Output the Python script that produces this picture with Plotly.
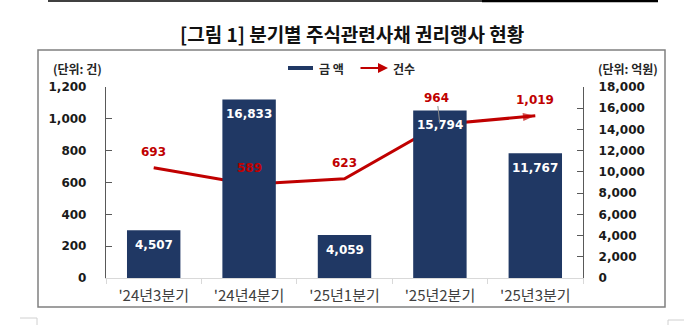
import plotly.graph_objects as go

categories = ["'24년3분기", "'24년4분기", "'25년1분기", "'25년2분기", "'25년3분기"]
amounts = [4507, 16833, 4059, 15794, 11767]      # 금액 (억원), right axis
counts = [693, 589, 623, 964, 1019]              # 건수 (건), left axis
left_ticks = [0, 200, 400, 600, 800, 1000, 1200]
right_ticks = [0, 2000, 4000, 6000, 8000, 10000, 12000, 14000, 16000, 18000]

title_text = "[그림 1] 분기별 주식관련사채 권리행사 현황"
left_unit = "(단위: 건)"
right_unit = "(단위: 억원)"
legend_bar = "금 액"
legend_line = "건수"

NAVY = "#203864"
RED = "#c00000"
FONT = "DejaVu Sans, Noto Sans CJK KR, sans-serif"
KFONT = "Noto Sans CJK KR, DejaVu Sans, sans-serif"

W, H = 700, 325
L, R, T, B = 106, 583, 87, 278  # plot area in pixels


def px(xp):
    return (xp - L) / (R - L)


def py(yp):
    return (B - yp) / (B - T)


fig = go.Figure()
fig.add_trace(go.Bar(
    x=categories, y=amounts, yaxis="y2", name=legend_bar,
    marker=dict(color=NAVY, line=dict(width=0)), showlegend=False,
))
n = len(categories)
fig.add_trace(go.Scatter(
    x=categories, y=counts, yaxis="y", name=legend_line, mode="lines+markers",
    line=dict(color=RED, width=3),
    marker=dict(symbol=["circle"] * (n - 1) + ["arrow"],
                size=[0] * (n - 1) + [13], angleref="previous", color=RED,
                line=dict(width=0)),
    showlegend=False,
))

annotations = []
for c, v in zip(categories, amounts):
    annotations.append(dict(x=c, y=v, xref="x", yref="y2", text=f"{v:,}",
                            showarrow=False, yshift=-15, yanchor="middle",
                            font=dict(family=FONT, size=12, color="white", weight="bold")))
for i, (c, v) in enumerate(zip(categories, counts)):
    if v == 964:
        annotations.append(dict(x=c, y=v, xref="x", yref="y", text=f"{v:,}",
                                showarrow=True, arrowhead=0, arrowwidth=1,
                                arrowcolor="#8c8c8c", ax=-3, ay=-27, standoff=1,
                                font=dict(family=FONT, size=12, color=RED, weight="bold")))
    else:
        annotations.append(dict(x=c, y=v, xref="x", yref="y", text=f"{v:,}",
                                showarrow=False, yshift=16, yanchor="middle",
                                font=dict(family=FONT, size=12, color=RED, weight="bold")))


def label(xp, yp, text, xanchor, size=12, color="#262626"):
    return dict(x=px(xp), y=py(yp), xref="paper", yref="paper", text=text,
                xanchor=xanchor, yanchor="middle", showarrow=False,
                font=dict(family=KFONT, size=size, color=color, weight="bold"))


annotations += [
    label(352, 33, title_text, "center", size=19, color="#111111"),
    label(51, 68, left_unit, "left"),
    label(660, 68, right_unit, "right"),
    label(317, 68, legend_bar, "left"),
    label(391, 68, legend_line, "left"),
    # legend arrow
    dict(x=px(388), y=py(68), xref="paper", yref="paper", text="", showarrow=True,
         arrowhead=2, arrowsize=1, arrowwidth=2, arrowcolor=RED, ax=-29, ay=0),
]

shapes = [
    # outer frame
    dict(type="rect", xref="paper", yref="paper", x0=px(38), x1=px(665), y0=py(307), y1=py(50),
         line=dict(color="#808080", width=1.5), layer="below"),
    # legend bar swatch
    dict(type="rect", xref="paper", yref="paper", x0=px(288), x1=px(313), y0=py(70), y1=py(66),
         line=dict(width=0), fillcolor=NAVY),
    # top page rule
    dict(type="line", xref="paper", yref="paper", x0=px(48), x1=px(658), y0=py(1), y1=py(1),
         line=dict(color="#000000", width=1.5)),
    dict(type="line", xref="paper", yref="paper", x0=px(482), x1=px(658), y0=py(1), y1=py(1),
         line=dict(color="#000000", width=2.5)),
    # crop marks
    dict(type="line", xref="paper", yref="paper", x0=px(20), x1=px(37), y0=py(318), y1=py(318),
         line=dict(color="#d0d0d0", width=1)),
    dict(type="line", xref="paper", yref="paper", x0=px(37), x1=px(37), y0=py(318), y1=py(325),
         line=dict(color="#d0d0d0", width=1)),
    dict(type="line", xref="paper", yref="paper", x0=px(668), x1=px(684), y0=py(320), y1=py(320),
         line=dict(color="#d0d0d0", width=1)),
    dict(type="line", xref="paper", yref="paper", x0=px(668), x1=px(668), y0=py(320), y1=py(325),
         line=dict(color="#d0d0d0", width=1)),
]

fig.update_layout(
    width=W, height=H,
    margin=dict(l=L, r=W - R, t=T, b=H - B, pad=0),
    paper_bgcolor="white", plot_bgcolor="white",
    bargap=0.44,
    showlegend=False,
    xaxis=dict(type="category", showline=True, linecolor="#d9d9d9", linewidth=1,
               ticks="outside", tickson="boundaries", ticklen=5, tickcolor="#d9d9d9",
               showgrid=False, ticklabelstandoff=4,
               tickfont=dict(family=KFONT, size=15, color="#404040")),
    yaxis=dict(range=[0, 1200], tickvals=left_ticks, tickformat=",", showgrid=False,
               zeroline=False, showline=True, linecolor="#595959", linewidth=1.3,
               ticks="inside", ticklen=6, tickcolor="#595959", ticklabelstandoff=16,
               tickfont=dict(family=FONT, size=12, color="#1a1a1a", weight="bold")),
    yaxis2=dict(range=[0, 18000], tickvals=right_ticks, tickformat=",", overlaying="y",
                side="right", showgrid=False, zeroline=False, showline=True,
                linecolor="#595959", linewidth=1.3, ticks="inside", ticklen=6,
                tickcolor="#595959", ticklabelstandoff=12,
                tickfont=dict(family=FONT, size=12, color="#1a1a1a", weight="bold")),
    annotations=annotations,
    shapes=shapes,
)

fig.write_html("out.html")
